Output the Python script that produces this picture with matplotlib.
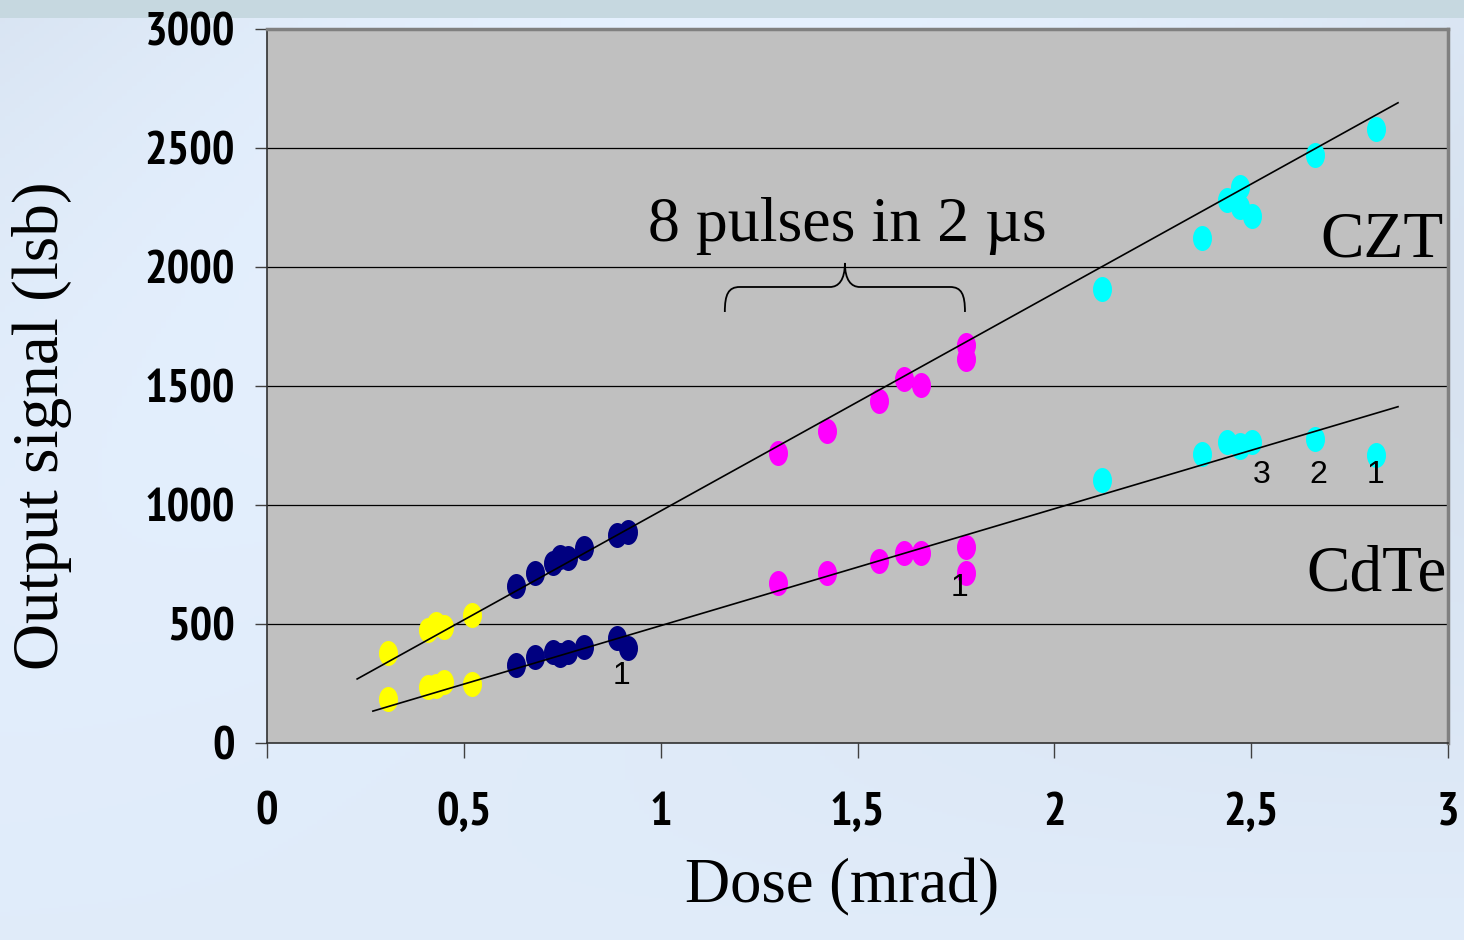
import numpy as np
import matplotlib
matplotlib.use("Agg")
import matplotlib.pyplot as plt
from matplotlib import font_manager
from matplotlib.path import Path
from matplotlib.patches import PathPatch
from matplotlib.transforms import Affine2D
from matplotlib.ticker import FuncFormatter

# doses (mrad) and output signal (lsb)
yellow_x = [0.308, 0.41, 0.43, 0.45, 0.521]
yellow_czt = [377, 475, 500, 488, 538]
yellow_cdte = [185, 237, 240, 258, 248]

navy_x = [0.632, 0.681, 0.727, 0.744, 0.765, 0.805, 0.888, 0.918]
navy_czt = [660, 713, 755, 783, 776, 821, 874, 888]
navy_cdte = [328, 363, 384, 370, 384, 405, 440, 398]

magenta_x = [1.297, 1.423, 1.555, 1.618, 1.661, 1.775, 1.775]
magenta_czt = [1217, 1311, 1438, 1528, 1504, 1672, 1613]
magenta_cdte = [671, 713, 766, 800, 800, 825, 713]

cyan_x = [2.122, 2.376, 2.438, 2.471, 2.471, 2.501, 2.662, 2.817]
cyan_czt = [1906, 2121, 2282, 2337, 2253, 2216, 2471, 2579]
cyan_cdte = [1105, 1214, 1266, 1245, 1252, 1266, 1276, 1210]

# trend lines (end points)
czt_fit_x = [0.229, 2.873]
czt_fit_y = [269, 2690]
cdte_fit_x = [0.269, 2.873]
cdte_fit_y = [134, 1413]

x_ticks = [0, 0.5, 1, 1.5, 2, 2.5, 3]
y_ticks = [0, 500, 1000, 1500, 2000, 2500, 3000]

serif = ['Liberation Serif', 'DejaVu Serif']


def weight_num(w):
    if isinstance(w, (int, float)):
        return w
    return font_manager.weight_dict.get(w, 400)


# a bold narrow sans for the tick numbers, if one is around
cands = []
for f in font_manager.fontManager.ttflist:
    if ('Narrow' in f.name or 'Condensed' in f.name) and weight_num(f.weight) >= 600:
        cands.append(f)
cands.sort(key=lambda f: (0 if 'Narrow' in f.name else 1, f.style != 'normal', f.name))
if cands:
    tick_font = font_manager.FontProperties(fname=cands[0].fname, size=34)
else:
    tick_font = font_manager.FontProperties(family=['Liberation Sans', 'DejaVu Sans'],
                                            weight='bold', size=30)

fig = plt.figure(figsize=(14.64, 9.4), dpi=100)

# slide background
bg = fig.add_axes([0, 0, 1, 1], zorder=-10)
yy, xx = np.mgrid[0:1:470j, 0:1:300j]
shade = 0.89 + 0.05 * np.sin(3.0 * xx + 2.0 * yy) * (1 - yy) + 0.03 * yy
img = np.dstack([shade - 0.04, shade + 0.005, np.minimum(shade + 0.06, 1.0)])
img[:9] = [0.78, 0.85, 0.88]
bg.imshow(np.clip(img, 0, 1), aspect='auto', extent=[0, 1, 0, 1], origin='upper')
bg.axis('off')

ax = fig.add_axes([267 / 1464, 197 / 940, 1181 / 1464, 714 / 940])
ax.set_facecolor('#c0c0c0')
ax.set_xlim(0, 3)
ax.set_ylim(0, 3000)

for y in y_ticks[1:-1]:
    ax.axhline(y, color='black', lw=0.9, zorder=1)

ell = Path.unit_circle().transformed(Affine2D().scale(0.76, 1.0))
for xs, ys1, ys2, c in [(yellow_x, yellow_czt, yellow_cdte, '#ffff00'),
                        (navy_x, navy_czt, navy_cdte, '#000080'),
                        (magenta_x, magenta_czt, magenta_cdte, '#ff00ff'),
                        (cyan_x, cyan_czt, cyan_cdte, '#00ffff')]:
    ax.plot(xs, ys1, ls='none', marker=ell, ms=18, color=c, mew=0, zorder=2)
    ax.plot(xs, ys2, ls='none', marker=ell, ms=18, color=c, mew=0, zorder=2)

ax.plot(czt_fit_x, czt_fit_y, color='black', lw=1.2, zorder=3)
ax.plot(cdte_fit_x, cdte_fit_y, color='black', lw=1.2, zorder=3)

# brace over the magenta pulses
verts = [(1.163, 1811), (1.163, 1885), (1.172, 1916), (1.201, 1916),
         (1.430, 1916),
         (1.452, 1916), (1.468, 1945), (1.468, 2017),
         (1.468, 1945), (1.484, 1916), (1.506, 1916),
         (1.735, 1916),
         (1.764, 1916), (1.773, 1885), (1.773, 1811)]
codes = [Path.MOVETO, Path.CURVE4, Path.CURVE4, Path.CURVE4,
         Path.LINETO,
         Path.CURVE4, Path.CURVE4, Path.CURVE4,
         Path.CURVE4, Path.CURVE4, Path.CURVE4,
         Path.LINETO,
         Path.CURVE4, Path.CURVE4, Path.CURVE4]
ax.add_patch(PathPatch(Path(verts, codes), fill=False, lw=1.3, color='black', zorder=4))

ax.text(1.475, 2110, '8 pulses in 2 \u00b5s', family=serif, fontsize=46,
        ha='center', va='baseline')
ax.text(2.99, 2045, 'CZT', family=serif, fontsize=47, ha='right', va='baseline')
ax.text(2.998, 640, 'CdTe', family=serif, fontsize=47, ha='right', va='baseline')

for xl, yl, s in [(0.90, 280, '1'), (1.76, 650, '1'), (2.527, 1126, '3'),
                  (2.67, 1126, '2'), (2.815, 1126, '1')]:
    ax.text(xl, yl, s, family=['Liberation Sans', 'DejaVu Sans'], fontsize=23,
            ha='center', va='center')

ax.set_xticks(x_ticks)
ax.set_yticks(y_ticks)
ax.xaxis.set_major_formatter(FuncFormatter(lambda v, p: ('%g' % v).replace('.', ',')))
ax.tick_params(axis='x', direction='out', length=11, width=1, pad=24, color='#404040')
ax.tick_params(axis='y', direction='out', length=9, width=1, pad=14, color='#404040')
for lab in ax.get_xticklabels() + ax.get_yticklabels():
    lab.set_fontproperties(tick_font)

ax.spines['left'].set_color('#303030')
ax.spines['bottom'].set_color('#303030')
ax.spines['left'].set_linewidth(1.2)
ax.spines['bottom'].set_linewidth(1.2)
ax.spines['top'].set_color('#808080')
ax.spines['right'].set_color('#808080')
ax.spines['top'].set_linewidth(2.5)
ax.spines['right'].set_linewidth(2.5)

fig.text(842 / 1464, 1 - 902 / 940, 'Dose (mrad)', family=serif, fontsize=45,
         ha='center', va='baseline')
fig.text(42 / 1464, 1 - 426 / 940, 'Output signal (lsb)', family=serif, fontsize=47,
         ha='center', va='center', rotation=90)

fig.savefig('out.png', dpi=100)
